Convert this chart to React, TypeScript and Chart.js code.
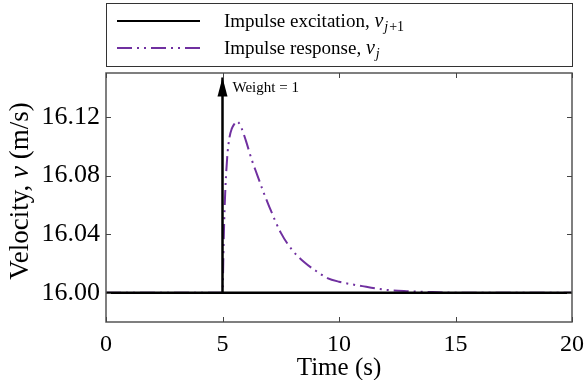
import React, { useEffect, useRef } from "react";
import { Chart, registerables } from "chart.js";

Chart.register(...registerables);

// ---- data ----
const X_MIN = 0;
const X_MAX = 20;
const Y_MIN = 15.98;
const Y_MAX = 16.15;
const X_TICKS = [0, 5, 10, 15, 20];
const Y_TICKS = [16.0, 16.04, 16.08, 16.12];

const IMPULSE_TIME = 5;
const IMPULSE_TIP = 16.147;
const EXC_T = [0, 5, 5, 5, 20];
const EXC_V = [16.0, 16.0, 16.147, 16.0, 16.0];

const RESP_T = [0, 5, 5.05, 5.1, 5.2, 5.3, 5.4, 5.5, 5.6, 5.7, 5.8, 6.0, 6.25, 6.5, 6.75, 7.0, 7.5, 8.0, 8.5, 9.0, 9.5, 10.0, 11.0, 12.0, 13.0, 14.0, 15.0, 20.0];
const RESP_V = [16.0, 16.0, 16.035, 16.062, 16.092, 16.106, 16.112, 16.115, 16.117, 16.116, 16.113, 16.104, 16.091, 16.08, 16.069, 16.059, 16.041, 16.029, 16.021, 16.015, 16.01, 16.0075, 16.0045, 16.002, 16.001, 16.0004, 16.0, 16.0];

const LEGEND_LABELS = ["Impulse excitation, ", "Impulse response, "];
const LEGEND_SUBS = ["j+1", "j"];
const WEIGHT_LABEL = "Weight = 1";
const X_TITLE = "Time (s)";
const Y_TITLE_PARTS = ["Velocity, ", "v", " (m/s)"];

const PURPLE = "#7030A0";
const SERIF = '"Liberation Serif", "Times New Roman", serif';
const DASH = [15, 5, 2, 5, 2, 5];

const decor = {
  id: "decor",
  afterDatasetsDraw(chart: any) {
    const { ctx, chartArea: a, scales } = chart;
    const x = scales.x;
    const y = scales.y;
    ctx.save();

    // arrowhead
    const px = x.getPixelForValue(IMPULSE_TIME);
    const py = y.getPixelForValue(IMPULSE_TIP);
    ctx.fillStyle = "#000";
    ctx.beginPath();
    ctx.moveTo(px, py);
    ctx.lineTo(px - 5, py + 19);
    ctx.lineTo(px + 5, py + 19);
    ctx.closePath();
    ctx.fill();

    ctx.font = `15px ${SERIF}`;
    ctx.textAlign = "left";
    ctx.textBaseline = "middle";
    ctx.fillText(WEIGHT_LABEL, px + 10, py + 11);

    // frame
    ctx.strokeStyle = "#555";
    ctx.lineWidth = 1.5;
    ctx.strokeRect(a.left, a.top, a.right - a.left, a.bottom - a.top);

    // inward ticks on all sides
    ctx.lineWidth = 1;
    ctx.strokeStyle = "#444";
    const seg = (x1: number, y1: number, x2: number, y2: number) => {
      ctx.beginPath();
      ctx.moveTo(x1, y1);
      ctx.lineTo(x2, y2);
      ctx.stroke();
    };
    X_TICKS.forEach((t) => {
      const xx = Math.round(x.getPixelForValue(t)) + 0.5;
      seg(xx, a.bottom, xx, a.bottom - 5);
      seg(xx, a.top, xx, a.top + 5);
    });
    Y_TICKS.forEach((t) => {
      const yy = Math.round(y.getPixelForValue(t)) + 0.5;
      seg(a.left, yy, a.left + 5, yy);
      seg(a.right, yy, a.right - 5, yy);
    });

    // legend box
    ctx.strokeStyle = "#333";
    ctx.lineWidth = 1;
    ctx.strokeRect(Math.round(a.left) + 0.5, 3.5, Math.round(a.right - a.left), 63);
    const rows = [21, 48];
    rows.forEach((ry, i) => {
      ctx.beginPath();
      ctx.moveTo(a.left + 11, ry);
      ctx.lineTo(a.left + 94, ry);
      ctx.lineWidth = 2;
      if (i === 0) {
        ctx.strokeStyle = "#000";
        ctx.setLineDash([]);
      } else {
        ctx.strokeStyle = PURPLE;
        ctx.setLineDash(DASH);
      }
      ctx.stroke();
      ctx.setLineDash([]);

      let tx = a.left + 118;
      ctx.fillStyle = "#000";
      ctx.textBaseline = "alphabetic";
      ctx.font = `19px ${SERIF}`;
      ctx.fillText(LEGEND_LABELS[i], tx, ry + 6);
      tx += ctx.measureText(LEGEND_LABELS[i]).width;
      ctx.font = `italic 20px ${SERIF}`;
      ctx.fillText("v", tx, ry + 6);
      tx += ctx.measureText("v").width + 1;
      const sub = LEGEND_SUBS[i];
      ctx.font = `italic 14px ${SERIF}`;
      ctx.fillText(sub[0], tx, ry + 10);
      tx += ctx.measureText(sub[0]).width;
      if (sub.length > 1) {
        ctx.font = `14px ${SERIF}`;
        ctx.fillText(sub.slice(1), tx + 1, ry + 10);
      }
    });

    // x title
    ctx.fillStyle = "#000";
    ctx.font = `25px ${SERIF}`;
    ctx.textAlign = "center";
    ctx.textBaseline = "alphabetic";
    ctx.fillText(X_TITLE, (a.left + a.right) / 2, 375);

    // y title
    ctx.save();
    ctx.translate(28, 191);
    ctx.rotate(-Math.PI / 2);
    ctx.textAlign = "left";
    const fonts = [`27px ${SERIF}`, `italic 27px ${SERIF}`, `27px ${SERIF}`];
    let total = 0;
    Y_TITLE_PARTS.forEach((p, i) => {
      ctx.font = fonts[i];
      total += ctx.measureText(p).width;
    });
    let cx = -total / 2;
    Y_TITLE_PARTS.forEach((p, i) => {
      ctx.font = fonts[i];
      ctx.fillText(p, cx, 0);
      cx += ctx.measureText(p).width;
    });
    ctx.restore();

    ctx.restore();
  },
};

export default function App() {
  const ref = useRef<HTMLCanvasElement>(null);
  useEffect(() => {
    document.body.style.margin = "0";
    const canvas = ref.current!;
    const chart = new Chart(canvas, {
      type: "line",
      data: {
        datasets: [
          {
            label: "Impulse excitation",
            data: EXC_T.map((t, i) => ({ x: t, y: EXC_V[i] })),
            borderColor: "#000",
            borderWidth: 2.5,
            pointRadius: 0,
            borderJoinStyle: "bevel",
            tension: 0,
          },
          {
            label: "Impulse response",
            data: RESP_T.map((t, i) => ({ x: t, y: RESP_V[i] })),
            borderColor: PURPLE,
            borderWidth: 2,
            borderDash: DASH,
            pointRadius: 0,
            cubicInterpolationMode: "monotone",
          },
        ],
      },
      options: {
        animation: false,
        responsive: false,
        layout: { padding: { top: 73, right: 15, left: 0, bottom: 0 } },
        plugins: { legend: { display: false }, tooltip: { enabled: false } },
        scales: {
          x: {
            type: "linear",
            min: X_MIN,
            max: X_MAX,
            afterBuildTicks: (s: any) => {
              s.ticks = X_TICKS.map((v) => ({ value: v }));
            },
            afterFit: (s: any) => {
              s.height = 58;
              s.paddingLeft = 0;
              s.paddingRight = 0;
            },
            grid: { display: false, drawTicks: false },
            border: { display: false },
            ticks: {
              font: { family: SERIF, size: 24 },
              color: "#000",
              padding: 8,
              maxRotation: 0,
              callback: (v: any) => String(v),
            },
          },
          y: {
            type: "linear",
            min: Y_MIN,
            max: Y_MAX,
            afterBuildTicks: (s: any) => {
              s.ticks = Y_TICKS.map((v) => ({ value: v }));
            },
            afterFit: (s: any) => {
              s.width = 106;
              s.paddingTop = 0;
              s.paddingBottom = 0;
            },
            grid: { display: false, drawTicks: false },
            border: { display: false },
            ticks: {
              font: { family: SERIF, size: 26 },
              color: "#000",
              padding: 6,
              callback: (v: any) => Number(v).toFixed(2),
            },
          },
        },
      },
      plugins: [decor],
    });
    return () => chart.destroy();
  }, []);
  return (
    <div style={{ position: "absolute", left: 0, top: 0, width: 587, height: 380 }}>
      <canvas ref={ref} width={587} height={380} />
    </div>
  );
}
